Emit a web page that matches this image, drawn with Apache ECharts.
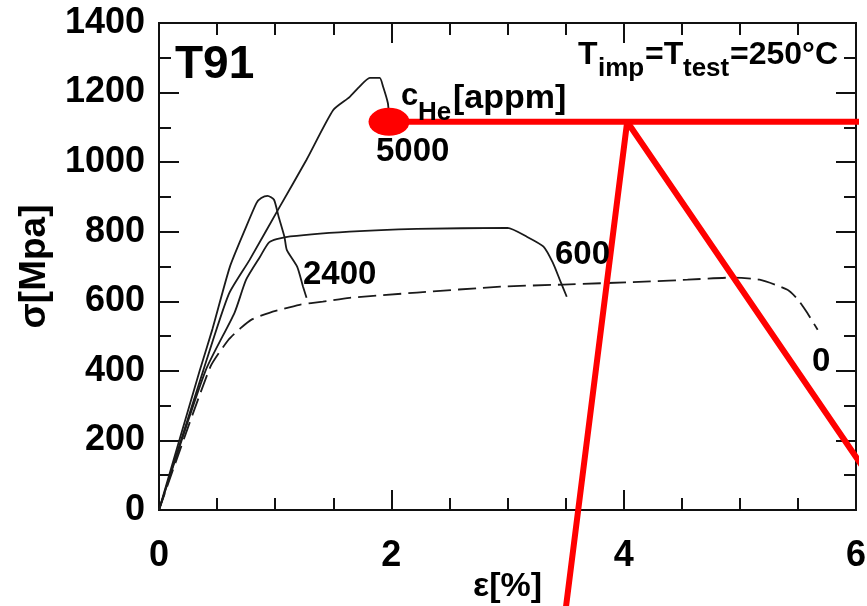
<!DOCTYPE html>
<html><head><meta charset="utf-8">
<script src="https://cdn.jsdelivr.net/npm/echarts@6/dist/echarts.min.js"></script>
<style>html,body{margin:0;padding:0;background:#fff}#c{width:867px;height:606px}</style>
</head><body><div id="c"></div>
<script>
// ---- data (strain %, stress MPa) ----
const xTicks = [0, 2, 4, 6];
const yTicks = [0, 200, 400, 600, 800, 1000, 1200, 1400];
const curve5000 = [[0,0],[0.38,400],[0.6,620],[0.78,719],[1.04,872],[1.27,1007],[1.5,1150],[1.64,1187],[1.72,1215],[1.815,1242],[1.9,1242],[1.93,1216],[1.97,1170],[1.98,1136],[1.99,1110]];
const curve2400 = [[0,0],[0.35,400],[0.46,520],[0.61,699],[0.75,814],[0.84,883],[0.88,897],[0.935,903],[0.99,892],[1.03,843],[1.08,785],[1.1,748],[1.19,699],[1.24,642],[1.27,610]];
const curve600 = [[0,0],[0.4,400],[0.65,567],[0.75,662],[0.87,728],[0.95,770],[1.08,784],[1.64,800],[2.22,808],[3.0,811],[3.17,785],[3.31,757],[3.39,711],[3.45,662],[3.51,613]];
const curve0 = [[0,0],[0.44,410],[0.6,490],[0.7,522],[0.8,548],[0.95,567],[1.21,590],[1.41,599],[1.64,610],[2.22,625],[2.94,642],[3.48,648],[4.23,657],[4.55,662],[4.92,668],[5.17,662],[5.41,633],[5.5,605],[5.58,567],[5.67,518]];
// red overlay annotation (data units)
const redDot = [[1.98,1116]];
const redHLine = [[1.98,1116],[6.3,1116]];
const redVLine = [[3.49,-314],[4.03,1116],[6.25,30]];

const FONT = '"Liberation Sans", Arial, Helvetica, sans-serif';
const chart = echarts.init(document.getElementById('c'), null, {renderer:'canvas'});
function axLine(){ return {show:true, onZero:false, lineStyle:{color:'#111', width:2}}; }
function xAx(pos, labels){
  return {type:'value', position:pos, min:xTicks[0], max:xTicks[xTicks.length-1], interval:2,
    axisLine:axLine(), splitLine:{show:false},
    axisTick:{show:true, inside:true, length:20, lineStyle:{color:'#111', width:2}},
    minorTick:{show:true, splitNumber:4, length:12, lineStyle:{color:'#111', width:2}},
    axisLabel:{show:labels, margin:28, color:'#000', fontFamily:FONT, fontWeight:'bold', fontSize:36, formatter:function(v){return String(v);}},
    name: labels ? 'ε[%]' : '', nameLocation:'middle', nameGap:60, nameMoveOverlap:false,
    nameTextStyle:{color:'#000', fontFamily:FONT, fontWeight:'bold', fontSize:34}};
}
function yAx(pos, labels){
  return {type:'value', position:pos, min:yTicks[0], max:yTicks[yTicks.length-1], interval:200,
    axisLine:axLine(), splitLine:{show:false},
    axisTick:{show:true, inside:true, length:20, lineStyle:{color:'#111', width:2}},
    minorTick:{show:true, splitNumber:2, length:12, lineStyle:{color:'#111', width:2}},
    axisLabel:{show:labels, margin:14, color:'#000', fontFamily:FONT, fontWeight:'bold', fontSize:36, formatter:function(v){return String(v);}},
    name: labels ? 'σ[Mpa]' : '', nameLocation:'middle', nameGap:106, nameMoveOverlap:false,
    nameTextStyle:{color:'#000', fontFamily:FONT, fontWeight:'bold', fontSize:37}};
}
const blk = {color:'#1a1a1a', width:1.8};
function txt(x, y, s, size){
  return {type:'text', x:x, y:y, z:100, style:{text:s, fill:'#000', font:'bold '+size+'px '+FONT, align:'left', verticalAlign:'middle'}};
}
chart.setOption({
  animation:false,
  backgroundColor:'#fff',
  grid:{left:159, right:11, top:23, bottom:96, containLabel:false, outerBoundsMode:'none',
        show:true, borderColor:'#111', borderWidth:2, backgroundColor:'transparent'},
  xAxis:[xAx('bottom', true), xAx('top', false)],
  yAxis:[yAx('left', true), yAx('right', false)],
  series:[
    {type:'line', data:curve5000, showSymbol:false, symbol:'none', lineStyle:blk, smooth:0.2, z:3},
    {type:'line', data:curve2400, showSymbol:false, symbol:'none', lineStyle:blk, smooth:0.2, z:3},
    {type:'line', data:curve600, showSymbol:false, symbol:'none', lineStyle:blk, smooth:0.2, z:3},
    {type:'line', data:curve0, showSymbol:false, symbol:'none', lineStyle:{color:'#1a1a1a', width:1.8, type:[18,7]}, smooth:0.2, z:3},
    {type:'line', data:redHLine, showSymbol:false, symbol:'none', clip:false, lineStyle:{color:'#ff0000', width:6, opacity:1}, z:10},
    {type:'line', data:redVLine, showSymbol:false, symbol:'none', clip:false, lineStyle:{color:'#ff0000', width:6, join:'bevel', opacity:1}, z:10},
    {type:'scatter', data:redDot, symbol:'circle', symbolSize:[41,28], itemStyle:{color:'#ff0000', opacity:1}, clip:false, z:11}
  ],
  graphic:[
    txt(175, 65, 'T91', 46),
    txt(578, 55, 'T', 32),
    txt(598, 69, 'imp', 26),
    txt(645, 55, '=T', 32),
    txt(683, 69, 'test', 26),
    txt(730, 55, '=250°C', 32),
    txt(401, 96, 'c', 31),
    txt(418, 113, 'He', 26),
    txt(453, 99, '[appm]', 34),
    txt(376, 152, '5000', 33),
    txt(303, 275, '2400', 33),
    txt(555, 255, '600', 33),
    txt(812, 362, '0', 33)
  ]
});
</script></body></html>
